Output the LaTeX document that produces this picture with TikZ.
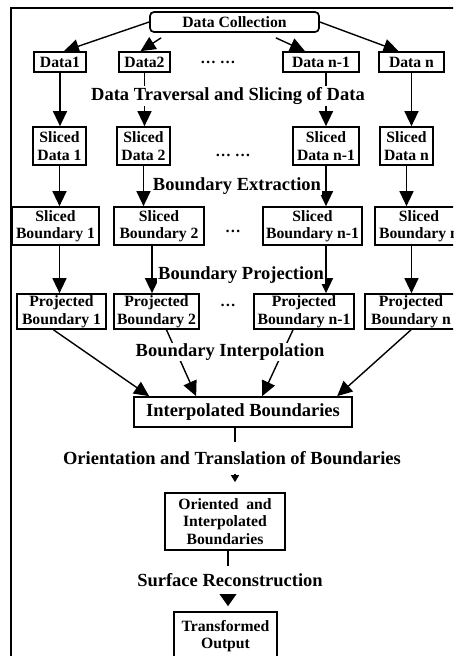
\documentclass[tikz,border=0pt]{standalone}
\usepackage{fontspec}
\setmainfont{Liberation Serif}
\usetikzlibrary{arrows.meta,calc}
\begin{document}
\begin{tikzpicture}[x=1pt,y=-1pt,
  box/.style={draw,line width=1.7pt,inner sep=0pt,align=center,font=\bfseries\fontsize{15.7}{17.5}\selectfont},
  bigbox/.style={box,font=\bfseries\fontsize{18.5}{20}\selectfont},
  lbl/.style={fill=white,inner xsep=1pt,inner ysep=1pt,font=\bfseries\fontsize{18.5}{20}\selectfont},
  dotsnode/.style={inner sep=0pt,font=\bfseries\fontsize{15.7}{18}\selectfont},
  conn/.style={line width=1.4pt,-{Triangle[width=14pt,length=15pt]}},
  plainline/.style={line width=1.4pt},
]
\useasboundingbox (0,0) rectangle (453,656);
\clip (0,0) rectangle (453,656);
\draw[line width=1.3pt] (11,690) -- (11,8) -- (480,8);

% row 0
\node[box,rounded corners=4pt,minimum width=169pt,minimum height=20pt] (dc) at (234.5,22) {Data Collection};
% row 1
\node[box,minimum width=52pt,minimum height=20pt] (d1) at (60,62) {Data1};
\node[box,minimum width=51pt,minimum height=20pt] (d2) at (144.5,62) {Data2};
\node[dotsnode] (o1) at (218,62) {… …};
\node[box,minimum width=76pt,minimum height=20pt] (dn1) at (321,62) {Data n-1};
\node[box,minimum width=65pt,minimum height=20pt] (dn) at (411.5,62) {Data n};
% row 2
\node[box,minimum width=53pt,minimum height=38pt] (s1) at (59.5,146) {Sliced\\Data 1};
\node[box,minimum width=53pt,minimum height=38pt] (s2) at (143.5,146) {Sliced\\Data 2};
\node[dotsnode] (o2) at (233,155) {… …};
\node[box,minimum width=66pt,minimum height=38pt] (sn1) at (326,146) {Sliced\\Data n-1};
\node[box,minimum width=53pt,minimum height=38pt] (sn) at (406.5,146) {Sliced\\Data n};
% row 3
\node[box,minimum width=87pt,minimum height=38pt] (b1) at (55.5,226) {Sliced\\Boundary 1};
\node[box,minimum width=90pt,minimum height=38pt] (b2) at (159,226) {Sliced\\Boundary 2};
\node[dotsnode] (o3) at (233,231) {…};
\node[box,minimum width=99pt,minimum height=38pt] (bn1) at (312.5,226) {Sliced\\Boundary n-1};
\node[box,minimum width=88pt,minimum height=38pt] (bn) at (419,226) {Sliced\\Boundary n};
% row 4
\node[box,minimum width=89pt,minimum height=35pt] (p1) at (61.5,311.5) {Projected\\Boundary 1};
\node[box,minimum width=85pt,minimum height=35pt] (p2) at (156.5,311.5) {Projected\\Boundary 2};
\node[dotsnode] (o4) at (228,305) {…};
\node[box,minimum width=100pt,minimum height=35pt] (pn1) at (304,311.5) {Projected\\Boundary n-1};
\node[box,minimum width=92pt,minimum height=35pt] (pn) at (411,311.5) {Projected\\Boundary n};
% lower chain
\node[bigbox,minimum width=218pt,minimum height=30pt] (ib) at (243,412) {Interpolated Boundaries};
\node[box,minimum width=120pt,minimum height=57pt] (oib) at (225,521.5) {Oriented~~and\\Interpolated\\Boundaries};
\node[box,minimum width=103pt,minimum height=48pt] (to) at (225.5,636) {Transformed\\Output};

% connectors from Data Collection
\draw[conn] (dc.west) -- ($(d1.north)+(4,0)$);
\draw[conn] ($(dc.south west)+(12,5)$) -- ($(d2.north)+(-4,0)$);
\draw[conn] ($(dc.south east)+(-44,5)$) -- ($(dn1.north)+(-16,0)$);
\draw[conn] (dc.east) -- ($(dn.north)+(-13,0)$);
% data -> sliced data
\draw[conn] (d1.south) -- (d1.south |- s1.north);
\draw[conn] (d2.south) -- (d2.south |- s2.north);
\draw[conn] (dn1.south -| sn1.north) -- (sn1.north);
\draw[conn] (dn.south) -- (dn.south |- sn.north);
% sliced data -> sliced boundary
\draw[conn] (s1.south) -- (s1.south |- b1.north);
\draw[conn] (s2.south) -- (s2.south |- b2.north);
\draw[conn] (sn1.south) -- (sn1.south |- bn1.north);
\draw[conn] (sn.south) -- (sn.south |- bn.north);
% sliced boundary -> projected
\coordinate (b2x) at ($(b2.south)+(-7,0)$);
\draw[conn] (b1.south -| s1.south) -- (s1.south |- p1.north);
\draw[conn] (b2x) -- (b2x |- p2.north);
\draw[conn] (bn1.south -| sn1.south) -- (sn1.south |- pn1.north);
\draw[conn] (bn.south -| dn.south) -- (dn.south |- pn.north);
% projected -> interpolated
\draw[conn] ($(p1.south)+(-8,0)$) -- ($(ib.north west)+(16,0)$);
\draw[conn] ($(p2.south)+(10,0)$) -- ($(ib.north west)+(63,0)$);
\draw[conn] ($(pn1.south)+(-11,0)$) -- ($(ib.north west)+(129,0)$);
\draw[conn] (pn.south) -- ($(ib.north west)+(204,0)$);
% lower chain
\coordinate (ibx) at ($(ib.south)+(-8,0)$);
\draw[plainline,-{Triangle[width=8pt,length=7pt]},shorten >=10pt] (ibx) -- (ibx |- oib.north);
\coordinate (oibx) at ($(oib.south)+(3,0)$);
\draw[plainline,-{Triangle[width=18pt,length=13pt]},shorten >=5pt] (oibx) -- (oibx |- to.north);

% stage labels
\node[lbl] (l1) at (228,96) {Data Traversal and Slicing of Data};
\node[lbl] (l2) at (237,186) {Boundary Extraction};
\node[lbl] (l3) at (241,275) {Boundary Projection};
\node[lbl] (l4) at (230,352) {Boundary Interpolation};
\node[lbl,inner ysep=9.5pt] (l5) at (232,458) {Orientation and Translation of Boundaries};
\node[lbl,inner ysep=7pt] (l6) at (230,580) {Surface Reconstruction};
\end{tikzpicture}
\end{document}
